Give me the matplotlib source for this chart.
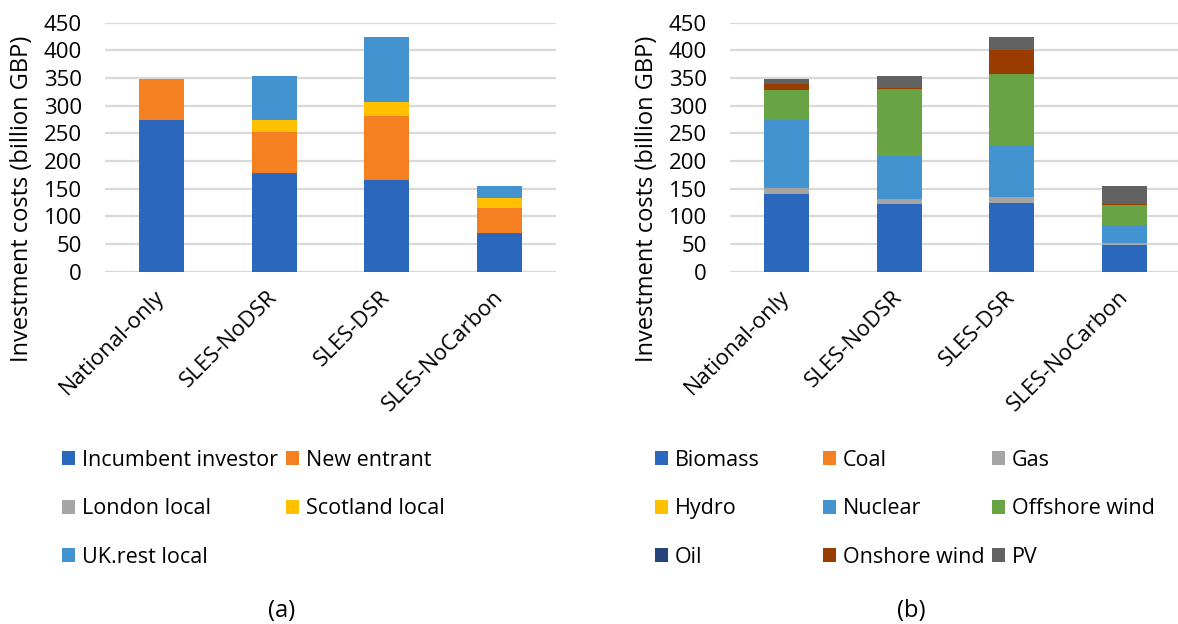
import matplotlib
matplotlib.use("Agg")
import matplotlib.pyplot as plt
import numpy as np

plt.rcParams["font.family"] = ["Open Sans", "DejaVu Sans"]

scenarios = ["National-only", "SLES-NoDSR", "SLES-DSR", "SLES-NoCarbon"]

# (a) investment by investor type, billion GBP
investors = ["Incumbent investor", "New entrant", "London local", "Scotland local", "UK.rest local"]
incumbent = [274, 179, 166, 70]
new_entrant = [75, 73, 116, 45]
london_local = [0, 0, 0, 0]
scotland_local = [0, 22, 25, 19]
ukrest_local = [0, 79, 118, 21]
investor_values = [incumbent, new_entrant, london_local, scotland_local, ukrest_local]
investor_colors = ["#2A67BD", "#F48021", "#A5A5A5", "#FFC000", "#4393D1"]

# (b) investment by technology, billion GBP
technologies = ["Biomass", "Coal", "Gas", "Hydro", "Nuclear",
                "Offshore wind", "Oil", "Onshore wind", "PV"]
biomass = [140, 122, 125, 49]
coal = [0, 0, 0, 0]
gas = [12, 9, 10, 3.5]
hydro = [0, 0, 0, 0]
nuclear = [123, 78, 93, 31]
offshore_wind = [54, 121, 130, 37.5]
oil = [0, 0, 0, 0]
onshore_wind = [10, 2.5, 42, 1.5]
pv = [10, 21.5, 24, 32]
tech_values = [biomass, coal, gas, hydro, nuclear, offshore_wind, oil, onshore_wind, pv]
tech_colors = ["#2A67BD", "#F48021", "#A5A5A5", "#FFC000", "#4393D1",
               "#68A344", "#264478", "#983C00", "#626262"]

W, H = 1178, 624
fig = plt.figure(figsize=(W / 100, H / 100), dpi=100)

TICK_FS = 16
LABEL_FS = 17
LEGEND_FS = 15.5
GRID = "#D9D9D9"


def stacked(ax, series, colors):
    x = np.arange(len(scenarios))
    bottom = np.zeros(len(scenarios))
    handles = []
    for vals, col in zip(series, colors):
        vals = np.asarray(vals, dtype=float)
        h = ax.bar(x, vals, width=0.4, bottom=bottom, color=col, linewidth=0, zorder=3)
        handles.append(h)
        bottom += vals
    ax.set_xlim(-0.5, len(scenarios) - 0.5)
    ax.set_ylim(0, 450)
    ax.set_yticks(np.arange(0, 451, 50))
    ax.yaxis.grid(True, color=GRID, linewidth=1.6, zorder=0)
    ax.set_axisbelow(True)
    for s in ax.spines.values():
        s.set_visible(False)
    ax.tick_params(axis="both", length=0, labelsize=TICK_FS)
    ax.tick_params(axis="y", pad=16.5)
    ax.tick_params(axis="x", pad=16)
    ax.set_xticks(x)
    ax.set_xticklabels(scenarios, rotation=45, ha="right", va="center",
                       rotation_mode="anchor")
    ax.set_ylabel("Investment costs (billion GBP)", fontsize=LABEL_FS)
    ax.yaxis.set_label_coords(-0.158, 0.294)
    return handles


ax_a = fig.add_axes([105 / W, 1 - 271.7 / H, 451 / W, 249 / H])
ax_b = fig.add_axes([730 / W, 1 - 271.7 / H, 451 / W, 249 / H])

h_a = stacked(ax_a, investor_values, investor_colors)
h_b = stacked(ax_b, tech_values, tech_colors)


def legend_columns(handles, labels, ncol, col_x):
    nrow = int(np.ceil(len(handles) / ncol))
    for c in range(ncol):
        idx = [r * ncol + c for r in range(nrow) if r * ncol + c < len(handles)]
        fig.legend([handles[i] for i in idx], [labels[i] for i in idx],
                   loc="upper left", bbox_to_anchor=(col_x[c] / W, 1 - 450 / H),
                   frameon=False, fontsize=LEGEND_FS, borderpad=0, borderaxespad=0,
                   handlelength=0.62, handleheight=0.62, handletextpad=0.32,
                   labelspacing=1.27)


legend_columns(h_a, investors, 2, [61.7, 286])
legend_columns(h_b, technologies, 3, [655, 823, 991.7])

fig.text(282 / W, 1 - 611 / H, "(a)", fontsize=LABEL_FS, ha="center", va="center")
fig.text(911 / W, 1 - 611 / H, "(b)", fontsize=LABEL_FS, ha="center", va="center")

fig.savefig("out.png", dpi=100)
